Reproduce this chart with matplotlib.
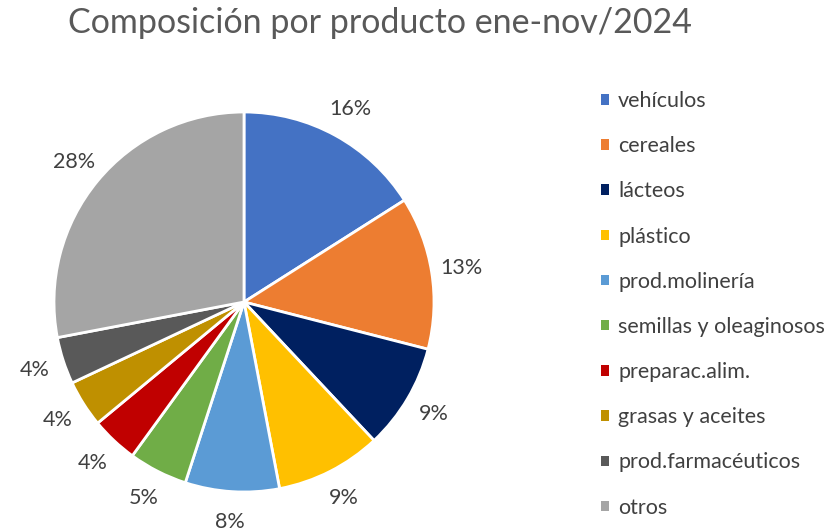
import matplotlib
matplotlib.use('Agg')
import matplotlib.pyplot as plt
from matplotlib.patches import Patch

plt.rcParams['font.family'] = ['Lato', 'DejaVu Sans']

categories = ['vehículos', 'cereales', 'lácteos', 'plástico', 'prod.molinería',
              'semillas y oleaginosos', 'preparac.alim.', 'grasas y aceites',
              'prod.farmacéuticos', 'otros']
shares = [16, 13, 9, 9, 8, 5, 4, 4, 4, 28]
colors = ['#4472C4', '#ED7D31', '#002060', '#FFC000', '#5B9BD5',
          '#70AD47', '#C00000', '#BF9000', '#595959', '#A5A5A5']

W, H = 837, 532
fig = plt.figure(figsize=(W / 100, H / 100), dpi=100)

# pie geometry in pixels (centre and radius)
cx, cy, r = 244, 302, 190
ax = fig.add_axes([(cx - r) / W, (H - cy - r) / H, 2 * r / W, 2 * r / H])
ax.pie(shares, colors=colors, startangle=90, counterclock=False,
       labels=[f'{v}%' for v in shares], labeldistance=1.16,
       wedgeprops=dict(edgecolor='white', linewidth=2),
       textprops=dict(color='#404040', fontsize=15.5))
for t in ax.texts:
    t.set_horizontalalignment('center')
    t.set_verticalalignment('center')
ax.set_xlim(-1, 1)
ax.set_ylim(-1, 1)
ax.set_axis_off()

fig.text(380 / W, 1 - 23 / H, 'Composición por producto ene-nov/2024',
         ha='center', va='center', fontsize=24.5, color='#595959')

handles = [Patch(facecolor=c, edgecolor='none') for c in colors]
fig.legend(handles, categories, loc='upper left',
           bbox_to_anchor=(601 / W, 1 - 91 / H), frameon=False,
           borderpad=0, borderaxespad=0,
           fontsize=15.5, labelcolor='#404040', labelspacing=1.17,
           handlelength=0.37, handleheight=0.37, handletextpad=0.42)

fig.savefig('out.png', dpi=100)
